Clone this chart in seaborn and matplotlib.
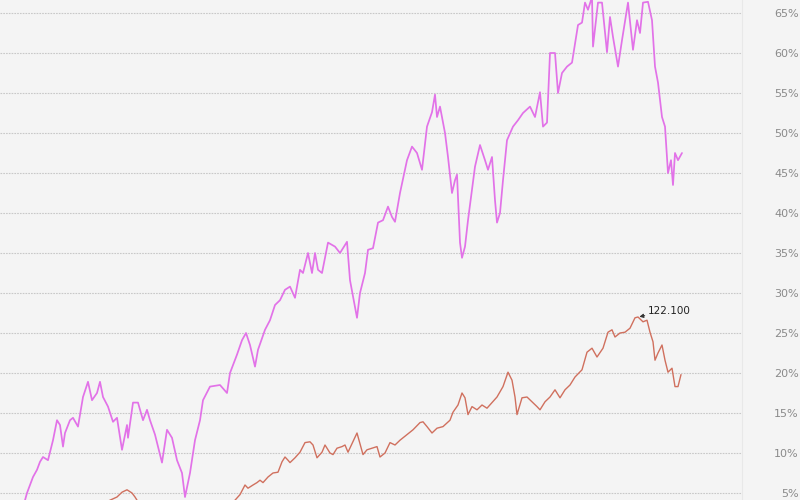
import pandas as pd
import numpy as np
import matplotlib
matplotlib.use("Agg")
import matplotlib.pyplot as plt
import seaborn as sns

# series 1 (magenta) - period index and percent value
t_a = [25, 27, 30, 33, 37, 40, 43, 48, 53, 57, 60, 63, 65, 70, 73, 78, 83, 88, 92, 97,
       100, 103, 108, 113, 117, 122, 127, 128, 133, 138, 143, 147, 150, 155, 162, 167, 172, 177, 182, 185,
       190, 195, 200, 203, 210, 220, 227, 230, 237, 242, 246, 250, 255, 258, 265, 270, 275, 280, 285, 290,
       295, 300, 303, 308, 312, 315, 318, 322, 328, 335, 340, 347, 350, 357, 360, 365, 368, 373, 378, 383,
       388, 392, 395, 400, 407, 412, 417, 422, 427, 432, 435, 437, 440, 445, 448, 452, 455, 457, 460, 462,
       465, 468, 472, 475, 480, 485, 488, 492, 495, 497, 500, 503, 507, 513, 518, 523, 530, 535, 540, 543,
       547, 550, 555, 558, 562, 567, 572, 578, 582, 585, 588, 592, 593, 598, 602, 607, 610, 613, 618, 622,
       628, 633, 637, 640, 643, 648, 652, 655, 658, 662, 665, 668, 671, 673, 675, 678, 682]
val_a = [4.1, 5.0, 6.0, 7.0, 7.9, 8.9, 9.5, 9.1, 11.6, 14.1, 13.5, 10.8, 12.5, 14.1, 14.4, 13.3, 17.0, 18.9, 16.6, 17.5,
         18.9, 17.0, 15.8, 13.9, 14.4, 10.4, 13.5, 11.9, 16.3, 16.3, 14.1, 15.4, 14.1, 12.3, 8.8, 12.9, 11.9, 9.1, 7.5, 4.5,
         7.5, 11.6, 14.1, 16.6, 18.3, 18.5, 17.5, 20.0, 22.3, 24.1, 25.0, 23.5, 20.8, 22.9, 25.4, 26.6, 28.5, 29.1, 30.4, 30.8,
         29.4, 32.9, 32.5, 35.0, 32.5, 35.0, 32.9, 32.5, 36.3, 35.8, 35.0, 36.4, 31.6, 26.9, 30.0, 32.5, 35.4, 35.6, 38.8, 39.1,
         40.8, 39.5, 38.9, 42.5, 46.6, 48.3, 47.5, 45.4, 50.8, 52.6, 54.8, 52.0, 53.3, 50.0, 47.0, 42.5, 44.1, 44.8, 36.3, 34.4,
         35.8, 39.1, 42.9, 45.8, 48.5, 46.6, 45.4, 47.0, 41.6, 38.8, 40.0, 44.1, 49.1, 50.8, 51.6, 52.5, 53.3, 52.0, 55.1, 50.8,
         51.3, 60.0, 60.0, 55.0, 57.5, 58.3, 58.8, 63.5, 63.8, 66.3, 65.4, 67.0, 60.8, 66.3, 66.3, 60.1, 64.5, 62.0, 58.3, 61.6,
         66.3, 60.4, 64.1, 62.5, 66.3, 66.4, 64.1, 58.3, 56.3, 52.0, 50.8, 45.0, 46.6, 43.5, 47.5, 46.6, 47.5]

# series 2 (brown-red)
t_b = [100, 110, 117, 122, 127, 132, 135, 140, 170, 200, 230, 235, 240, 245, 248, 253, 257, 260, 263, 268,
       273, 278, 282, 285, 288, 290, 295, 300, 305, 310, 313, 317, 322, 325, 330, 333, 337, 342, 345, 348,
       357, 363, 367, 372, 377, 380, 385, 390, 395, 400, 407, 413, 420, 423, 427, 432, 437, 443, 450, 453,
       458, 462, 465, 468, 472, 477, 482, 487, 492, 497, 503, 508, 512, 515, 517, 522, 527, 532, 537, 540,
       545, 550, 555, 560, 565, 570, 575, 582, 587, 592, 597, 603, 608, 612, 615, 620, 625, 630, 635, 638,
       643, 647, 650, 653, 655, 658, 662, 665, 668, 672, 675, 678, 681]
val_b = [3.5, 4.1, 4.5, 5.1, 5.4, 5.0, 4.5, 3.5, 2.9, 2.3, 3.5, 4.1, 4.8, 6.0, 5.6, 6.0, 6.3, 6.6, 6.3, 7.0,
         7.5, 7.6, 8.9, 9.5, 9.1, 8.8, 9.4, 10.1, 11.3, 11.4, 11.0, 9.4, 10.1, 11.0, 10.0, 9.8, 10.6, 10.8, 11.0, 10.1,
         12.5, 9.8, 10.4, 10.6, 10.8, 9.5, 10.0, 11.3, 11.0, 11.6, 12.3, 12.9, 13.8, 13.9, 13.3, 12.5, 13.1, 13.3, 14.1, 15.1,
         16.0, 17.5, 16.9, 14.8, 15.8, 15.4, 16.0, 15.6, 16.3, 17.0, 18.3, 20.1, 19.1, 17.0, 14.8, 16.9, 17.0, 16.4, 15.8, 15.4,
         16.4, 17.0, 17.9, 16.9, 17.9, 18.5, 19.5, 20.4, 22.6, 23.1, 22.0, 23.1, 25.1, 25.4, 24.5, 25.0, 25.1, 25.6, 26.9, 27.0,
         26.4, 26.6, 25.1, 23.9, 21.6, 22.5, 23.5, 21.6, 20.1, 20.6, 18.3, 18.3, 19.8]

yticks = [5, 10, 15, 20, 25, 30, 35, 40, 45, 50, 55, 60, 65]
ytick_labels = [f"{v}%" for v in yticks]
peak_label = "122.100"

df_a = pd.DataFrame({"t": t_a, "value": val_a})
df_b = pd.DataFrame({"t": t_b, "value": val_b})

bg = "#f4f4f4"
sns.set_style("white")
fig = plt.figure(figsize=(8, 5), dpi=100, facecolor=bg)
ax = fig.add_axes([0, 0, 742 / 800, 1])
ax.set_facecolor(bg)

sns.lineplot(data=df_a, x="t", y="value", ax=ax, color="#e272e8", linewidth=1.25)
sns.lineplot(data=df_b, x="t", y="value", ax=ax, color="#d0705e", linewidth=1.0)

# annotate the peak of series 2
ipk = int(np.argmax(val_b))
ax.annotate(peak_label, xy=(t_b[ipk], val_b[ipk]), xytext=(t_b[ipk] + 10, val_b[ipk] + 0.8),
            fontsize=7.5, color="#222222", va="center", ha="left",
            arrowprops=dict(arrowstyle="-|>", color="#333333", lw=0.7, mutation_scale=6,
                            shrinkA=0, shrinkB=1))

ax.set_xlim(0, 742)
ax.set_ylim(4.125, 66.625)
ax.set_xlabel("")
ax.set_ylabel("")
ax.set_xticks([])
ax.set_yticks(yticks)
ax.set_yticklabels(ytick_labels)
ax.yaxis.tick_right()
ax.tick_params(axis="y", length=0, pad=41, labelsize=8, labelcolor="#8a8a8a")
for lab in ax.get_yticklabels():
    lab.set_horizontalalignment("right")
ax.grid(axis="y", color="#c8c8c8", linestyle=(0, (1.5, 1)), linewidth=0.8)
for s in ["top", "bottom", "left"]:
    ax.spines[s].set_visible(False)
ax.spines["right"].set_color("#e8e8e8")
ax.spines["right"].set_linewidth(0.8)

plt.savefig("out.png", dpi=100, facecolor=bg)
